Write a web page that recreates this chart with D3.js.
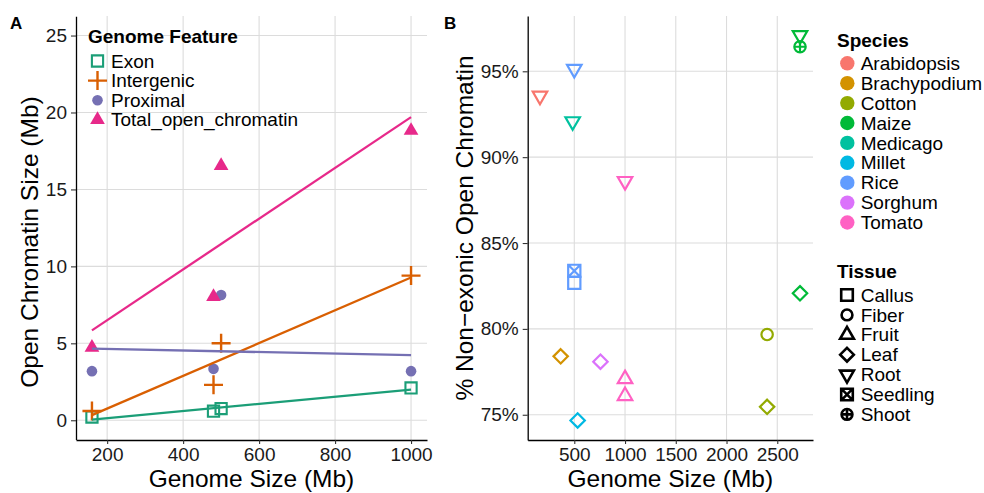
<!DOCTYPE html>
<html><head><meta charset="utf-8">
<script src="https://cdn.jsdelivr.net/npm/d3@7/dist/d3.min.js"></script>
<style>body{margin:0;background:#fff} svg{font-family:"Liberation Sans",Arial,Helvetica,sans-serif}</style>
</head><body><svg id="c" width="984" height="493"></svg>
<script>
// ---------- Panel A data ----------
const featureNames = ["Exon", "Intergenic", "Proximal", "Total_open_chromatin"];
const featureColors = ["#1B9E77", "#D95F02", "#7570B3", "#E7298A"];
const genomeSizeA = [160, 480, 500, 1000];
const exonMb = [0.21, 0.59, 0.76, 2.1];
const intergenicMb = [0.6, 2.3, 5.0, 9.4];
const proximalMb = [3.19, 3.34, 8.14, 3.19];
const totalOpenMb = [4.73, 8.03, 16.54, 18.82];
const xTicksA = [200, 400, 600, 800, 1000];
const yTicksA = [0, 5, 10, 15, 20, 25];

// ---------- Panel B data ----------
const speciesNames = ["Arabidopsis", "Brachypodium", "Cotton", "Maize", "Medicago", "Millet", "Rice", "Sorghum", "Tomato"];
const speciesColors = ["#F8766D", "#D39200", "#93AA00", "#00BA38", "#00C19F", "#00B9E3", "#619CFF", "#DB72FB", "#FF61C3"];
const tissueNames = ["Callus", "Fiber", "Fruit", "Leaf", "Root", "Seedling", "Shoot"];
const pointSpecies = ["Arabidopsis", "Rice", "Medicago", "Tomato", "Maize", "Maize", "Rice", "Rice", "Maize", "Cotton", "Cotton", "Brachypodium", "Sorghum", "Millet", "Tomato", "Tomato"];
const pointTissue = ["Root", "Root", "Root", "Root", "Root", "Shoot", "Seedling", "Callus", "Leaf", "Fiber", "Leaf", "Leaf", "Leaf", "Leaf", "Fruit", "Fruit"];
const pointGenome = [162, 500, 484, 1000, 2724, 2724, 500, 500, 2724, 2400, 2400, 366, 758, 533, 1000, 1000];
const pointPct = [93.57, 95.13, 92.08, 88.6, 97.1, 96.43, 83.38, 82.68, 82.07, 79.67, 75.46, 78.4, 78.09, 74.67, 77.08, 76.1];
const xTicksB = [500, 1000, 1500, 2000, 2500];
const yTicksB = [75, 80, 85, 90, 95];

const svg = d3.select("#c");
const GRID = "#dcdcdc";
const fmtInt = d3.format("d");

// shape path generator
function shapePath(type, k) {
  k = k || 1;
  const s = 6.1 * k, r = 5.7 * k, w = 14.5 * k, h = w * 0.866, d = 7.2 * k;
  const circ = (rr) => `M${-rr},0A${rr},${rr} 0 1,0 ${rr},0A${rr},${rr} 0 1,0 ${-rr},0Z`;
  switch (type) {
    case "Callus": return `M${-s},${-s}H${s}V${s}H${-s}Z`;
    case "Fiber": return circ(r);
    case "Fruit": return `M0,${-2*h/3}L${w/2},${h/3}L${-w/2},${h/3}Z`;
    case "Leaf": return `M0,${-d}L${d},0L0,${d}L${-d},0Z`;
    case "Root": return `M0,${2*h/3}L${w/2},${-h/3}L${-w/2},${-h/3}Z`;
    case "Seedling": return `M${-s},${-s}H${s}V${s}H${-s}Z M${-s},${-s}L${s},${s} M${s},${-s}L${-s},${s}`;
    case "Shoot": return circ(r) + ` M${-r},0H${r} M0,${-r}V${r}`;
  }
}
function featurePath(i) {
  if (i === 0) { const s = 5.6; return `M${-s},${-s}H${s}V${s}H${-s}Z`; }
  if (i === 1) { const a = 9.5; return `M${-a},0H${a}M0,${-a}V${a}`; }
  if (i === 2) { const r = 5.3; return `M${-r},0A${r},${r} 0 1,0 ${r},0A${r},${r} 0 1,0 ${-r},0Z`; }
  const w = 14.7, h = 12.7; return `M0,${-2*h/3}L${w/2},${h/3}L${-w/2},${h/3}Z`;
}
function styleFeature(sel, i) {
  const c = featureColors[i];
  if (i === 0) sel.attr("fill", "none").attr("stroke", c).attr("stroke-width", 2.1);
  else if (i === 1) sel.attr("fill", "none").attr("stroke", c).attr("stroke-width", 2.4);
  else sel.attr("fill", c).attr("stroke", "none");
}

// ================= Panel A =================
const xA = d3.scaleLinear().domain([118, 1042]).range([76, 427]);
const yA = d3.scaleLinear().domain([-1.25, 26.25]).range([439.5, 16.3]);

const gA = svg.append("g");
gA.selectAll(".gv").data(xTicksA).enter().append("line")
  .attr("x1", d => xA(d)).attr("x2", d => xA(d)).attr("y1", 16).attr("y2", 440)
  .attr("stroke", GRID).attr("stroke-width", 1.1);
gA.selectAll(".gh").data(yTicksA).enter().append("line")
  .attr("x1", 76).attr("x2", 427).attr("y1", d => yA(d)).attr("y2", d => yA(d))
  .attr("stroke", GRID).attr("stroke-width", 1.1);

const axA_x = d3.axisBottom(xA).tickValues(xTicksA).tickFormat(fmtInt).tickSize(4).tickPadding(4).tickSizeOuter(0);
const axA_y = d3.axisLeft(yA).tickValues(yTicksA).tickFormat(fmtInt).tickSize(5).tickPadding(4).tickSizeOuter(0);
function styleAxis(g) {
  g.select(".domain").attr("stroke", "#000").attr("stroke-width", 1.3);
  g.selectAll(".tick line").attr("stroke", "#333").attr("stroke-width", 1.1);
  g.selectAll(".tick text").attr("font-size", 19).attr("fill", "#1a1a1a").attr("font-family", null);
}
gA.append("g").attr("transform", "translate(0,440)").call(axA_x).call(styleAxis);
gA.append("g").attr("transform", "translate(76,0)").call(axA_y).call(styleAxis);

const seriesA = [exonMb, intergenicMb, proximalMb, totalOpenMb];
function lm(xs, ys) {
  const mx = d3.mean(xs), my = d3.mean(ys);
  const b = d3.sum(xs.map((x, i) => (x - mx) * (ys[i] - my))) / d3.sum(xs.map(x => (x - mx) ** 2));
  return x => my + b * (x - mx);
}
seriesA.forEach((vals, i) => {
  gA.selectAll(null).data(vals).enter().append("path")
    .attr("d", featurePath(i))
    .attr("transform", (d, j) => `translate(${xA(genomeSizeA[j])},${yA(d)})`)
    .call(styleFeature, i);
});
seriesA.forEach((vals, i) => {
  const f = lm(genomeSizeA, vals);
  const ext = d3.extent(genomeSizeA);
  gA.append("line")
    .attr("x1", xA(ext[0])).attr("y1", yA(f(ext[0])))
    .attr("x2", xA(ext[1])).attr("y2", yA(f(ext[1])))
    .attr("stroke", featureColors[i]).attr("stroke-width", 2.3);
});

svg.append("text").attr("x", 251.5).attr("y", 487).attr("text-anchor", "middle")
  .attr("font-size", 24.5).attr("fill", "#000").text("Genome Size (Mb)");
svg.append("text").attr("transform", "translate(38,242) rotate(-90)").attr("text-anchor", "middle")
  .attr("font-size", 24.5).attr("fill", "#000").text("Open Chromatin Size (Mb)");
svg.append("text").attr("x", 10).attr("y", 28.5).attr("font-size", 17).attr("font-weight", "bold").text("A");

const legA = svg.append("g");
legA.append("text").attr("x", 88).attr("y", 43).attr("font-size", 19).attr("font-weight", "bold").text("Genome Feature");
featureNames.forEach((n, i) => {
  const cy = 61 + i * 19.6;
  legA.append("path").attr("d", featurePath(i)).attr("transform", `translate(97.5,${cy})`).call(styleFeature, i);
  legA.append("text").attr("x", 111).attr("y", cy + 6.6).attr("font-size", 19).attr("fill", "#000").text(n);
});

// ================= Panel B =================
const xB = d3.scaleLinear().domain([41, 2852]).range([527.7, 813]);
const yB = d3.scaleLinear().domain([73.53, 98.22]).range([440, 16]);
const gB = svg.append("g");
gB.selectAll(".gv").data(xTicksB).enter().append("line")
  .attr("x1", d => xB(d)).attr("x2", d => xB(d)).attr("y1", 16).attr("y2", 440)
  .attr("stroke", GRID).attr("stroke-width", 1.1);
gB.selectAll(".gh").data(yTicksB).enter().append("line")
  .attr("x1", 527.7).attr("x2", 813).attr("y1", d => yB(d)).attr("y2", d => yB(d))
  .attr("stroke", GRID).attr("stroke-width", 1.1);
const axB_x = d3.axisBottom(xB).tickValues(xTicksB).tickFormat(fmtInt).tickSize(4).tickPadding(4).tickSizeOuter(0);
const axB_y = d3.axisLeft(yB).tickValues(yTicksB).tickFormat(d => d + "%").tickSize(5).tickPadding(4).tickSizeOuter(0);
gB.append("g").attr("transform", "translate(0,440)").call(axB_x).call(styleAxis);
gB.append("g").attr("transform", "translate(527.7,0)").call(axB_y).call(styleAxis);

const colorOf = d3.scaleOrdinal().domain(speciesNames).range(speciesColors);
gB.selectAll(".pt").data(pointPct).enter().append("path")
  .attr("d", (d, i) => shapePath(pointTissue[i]))
  .attr("transform", (d, i) => `translate(${xB(pointGenome[i])},${yB(d)})`)
  .attr("fill", "none").attr("stroke", (d, i) => colorOf(pointSpecies[i])).attr("stroke-width", 2.2);

svg.append("text").attr("x", 670.3).attr("y", 487).attr("text-anchor", "middle")
  .attr("font-size", 24.5).attr("fill", "#000").text("Genome Size (Mb)");
svg.append("text").attr("transform", "translate(472.5,228) rotate(-90)").attr("text-anchor", "middle")
  .attr("font-size", 24.5).attr("fill", "#000").text("% Non\u2212exonic Open Chromatin");
svg.append("text").attr("x", 444).attr("y", 28.5).attr("font-size", 17).attr("font-weight", "bold").text("B");

const legB = svg.append("g");
legB.append("text").attr("x", 837).attr("y", 46.7).attr("font-size", 19).attr("font-weight", "bold").text("Species");
speciesNames.forEach((n, i) => {
  const cy = 63.3 + i * 19.9;
  legB.append("circle").attr("cx", 847.3).attr("cy", cy).attr("r", 7.2).attr("fill", colorOf(n));
  legB.append("text").attr("x", 860.7).attr("y", cy + 6.6).attr("font-size", 19).attr("fill", "#000").text(n);
});
legB.append("text").attr("x", 837).attr("y", 278).attr("font-size", 19).attr("font-weight", "bold").text("Tissue");
tissueNames.forEach((n, i) => {
  const cy = 295 + i * 19.9;
  legB.append("path").attr("d", shapePath(n, 0.95)).attr("transform", `translate(847,${cy})`)
    .attr("fill", "none").attr("stroke", "#000").attr("stroke-width", 2.6);
  legB.append("text").attr("x", 860.7).attr("y", cy + 6.6).attr("font-size", 19).attr("fill", "#000").text(n);
});
</script></body></html>
